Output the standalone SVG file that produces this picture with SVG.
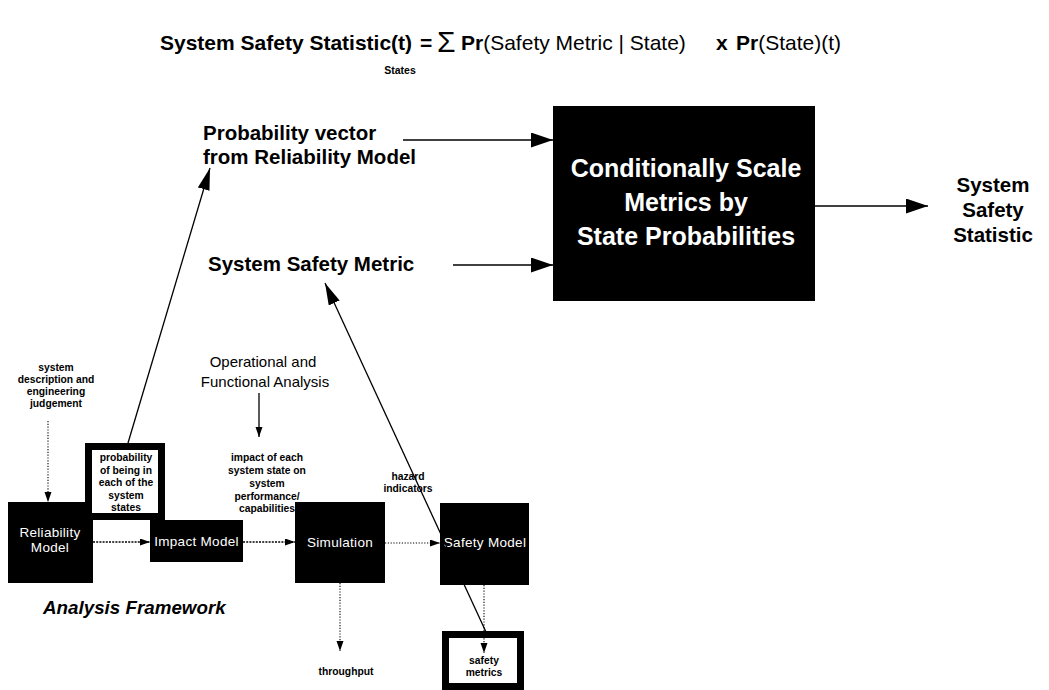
<svg xmlns="http://www.w3.org/2000/svg" width="1049" height="690" viewBox="0 0 1049 690">
  <style>
    text { font-family: "Liberation Sans", Arial, Helvetica, sans-serif; fill: #000; }
    .b { font-weight: bold; }
    .lbl { font-weight: bold; font-size: 20.5px; }
    .eq { font-size: 21px; }
    .tiny { font-weight: bold; font-size: 10.3px; text-anchor: middle; }
    .boxtxt { fill: #fff; font-size: 13.5px; text-anchor: middle; letter-spacing: 0.3px; }
    .big { fill: #fff; font-weight: bold; font-size: 25px; text-anchor: middle; }
    .blk { fill: #000; }
    .solid { stroke: #000; stroke-width: 1.6; fill: none; }
    .thin { stroke: #000; stroke-width: 1.3; fill: none; }
    .dash { stroke: #000; stroke-width: 1.4; fill: none; stroke-dasharray: 2 1.2; }
    .dot { stroke: #000; stroke-width: 1.1; fill: none; stroke-dasharray: 1.2 1.6; }
  </style>
  <defs>
    <marker id="bigHead" markerUnits="userSpaceOnUse" markerWidth="24" markerHeight="16" refX="22" refY="7.5" orient="auto">
      <path d="M0,0 L22,7.5 L0,15 Z" fill="#000"/>
    </marker>
    <marker id="slimHead" markerUnits="userSpaceOnUse" markerWidth="24" markerHeight="14" refX="22" refY="6" orient="auto">
      <path d="M0,0 L22,6 L0,12 Z" fill="#000"/>
    </marker>
    <marker id="smallHead" markerUnits="userSpaceOnUse" markerWidth="11" markerHeight="8" refX="10" refY="3.5" orient="auto">
      <path d="M0,0 L10,3.5 L0,7 Z" fill="#000"/>
    </marker>
  </defs>

  <rect width="1049" height="690" fill="#fff"/>

  <!-- Formula heading -->
  <g id="formula">
    <text x="160" y="50" class="eq b">System Safety Statistic(t)</text>
    <text x="420" y="50" class="eq b">=</text>
    <text x="437" y="52" font-size="30">Σ</text>
    <text x="461" y="50" class="eq"><tspan class="b">Pr</tspan>(Safety Metric | State)</text>
    <text x="716" y="50" class="eq b">x</text>
    <text x="736" y="50" class="eq"><tspan class="b">Pr</tspan>(State)(t)</text>
    <text x="400" y="74" class="b" font-size="10.5" text-anchor="middle">States</text>
  </g>

  <!-- Upper row: inputs, scaling block, result -->
  <g id="prob-vector">
    <text x="203" y="140" class="lbl">Probability vector</text>
    <text x="203" y="164" class="lbl">from Reliability Model</text>
  </g>
  <g id="safety-metric">
    <text x="208" y="271" class="lbl">System Safety Metric</text>
  </g>
  <g id="scale-block">
    <rect x="553" y="106" width="262" height="195" class="blk"/>
    <text x="686" y="177" class="big" style="fill:#fff">Conditionally Scale</text>
    <text x="686" y="211" class="big" style="fill:#fff">Metrics by</text>
    <text x="686" y="245" class="big" style="fill:#fff">State Probabilities</text>
  </g>
  <g id="safety-statistic">
    <text x="993" y="192" class="lbl" text-anchor="middle">System</text>
    <text x="993" y="217" class="lbl" text-anchor="middle">Safety</text>
    <text x="993" y="242" class="lbl" text-anchor="middle">Statistic</text>
  </g>

  <!-- Lower part: analysis framework -->
  <g id="sys-description">
    <text x="56" y="371" class="tiny">system</text>
    <text x="56" y="383" class="tiny">description and</text>
    <text x="56" y="395" class="tiny">engineering</text>
    <text x="56" y="407" class="tiny">judgement</text>
  </g>
  <g id="op-analysis">
    <text x="263" y="367" font-size="15" text-anchor="middle">Operational and</text>
    <text x="265" y="387" font-size="15" text-anchor="middle">Functional Analysis</text>
  </g>
  <g id="impact-note">
    <text x="267" y="461" class="tiny">impact of each</text>
    <text x="267" y="474" class="tiny">system state on</text>
    <text x="267" y="487" class="tiny">system</text>
    <text x="267" y="500" class="tiny">performance/</text>
    <text x="267" y="512" class="tiny">capabilities</text>
  </g>
  <g id="hazard-note">
    <text x="408" y="480" class="tiny">hazard</text>
    <text x="408" y="492" class="tiny">indicators</text>
  </g>

  <g id="reliability-model">
    <rect x="8" y="502" width="85" height="81" class="blk"/>
    <text x="50" y="537" class="boxtxt">Reliability</text>
    <text x="50" y="552" class="boxtxt">Model</text>
  </g>
  <g id="state-probabilities">
    <rect x="88.5" y="446.5" width="73" height="70" fill="#fff" stroke="#000" stroke-width="7"/>
    <text x="126" y="461" class="tiny">probability</text>
    <text x="126" y="473.5" class="tiny">of being in</text>
    <text x="126" y="486" class="tiny">each of the</text>
    <text x="126" y="498.5" class="tiny">system</text>
    <text x="126" y="511" class="tiny">states</text>
  </g>
  <g id="impact-model">
    <rect x="150" y="520" width="93" height="42" class="blk"/>
    <text x="196.5" y="546" class="boxtxt">Impact Model</text>
  </g>
  <g id="simulation">
    <rect x="295" y="502" width="90" height="81" class="blk"/>
    <text x="340" y="547" class="boxtxt">Simulation</text>
  </g>
  <g id="safety-model">
    <rect x="440" y="503" width="89" height="82" class="blk"/>
    <text x="485" y="547" class="boxtxt">Safety Model</text>
  </g>
  <g id="throughput">
    <text x="346" y="675" class="tiny">throughput</text>
  </g>
  <g id="safety-metrics">
    <rect x="445.5" y="634.5" width="75" height="52" fill="#fff" stroke="#000" stroke-width="7"/>
    <text x="484" y="664" class="tiny">safety</text>
    <text x="484" y="676" class="tiny">metrics</text>
  </g>
  <g id="framework-title">
    <text x="43" y="614" class="b" font-size="18.8" font-style="italic">Analysis Framework</text>
  </g>

  <!-- Connectors -->
  <g id="connectors">
    <line x1="403" y1="140" x2="553" y2="140" class="solid" marker-end="url(#bigHead)"/>
    <line x1="453" y1="265" x2="553" y2="265" class="solid" marker-end="url(#bigHead)"/>
    <line x1="815" y1="206" x2="928" y2="206" class="solid" marker-end="url(#bigHead)"/>
    <line x1="128" y1="443" x2="210" y2="168" class="thin" marker-end="url(#slimHead)"/>
    <line x1="486" y1="632" x2="325" y2="283" class="thin" marker-end="url(#slimHead)"/>
    <line x1="48" y1="421" x2="48" y2="502" class="dot" marker-end="url(#smallHead)"/>
    <line x1="259" y1="393" x2="259" y2="437" class="thin" marker-end="url(#smallHead)"/>
    <line x1="93" y1="542" x2="150" y2="542" class="dash" marker-end="url(#smallHead)"/>
    <line x1="243" y1="542" x2="295" y2="542" class="dash" marker-end="url(#smallHead)"/>
    <line x1="385" y1="543" x2="440" y2="543" class="dot" marker-end="url(#smallHead)"/>
    <line x1="340" y1="583" x2="340" y2="651" class="dot" marker-end="url(#smallHead)"/>
    <line x1="484" y1="585" x2="484" y2="653" class="dot" marker-end="url(#smallHead)"/>
  </g>
</svg>
